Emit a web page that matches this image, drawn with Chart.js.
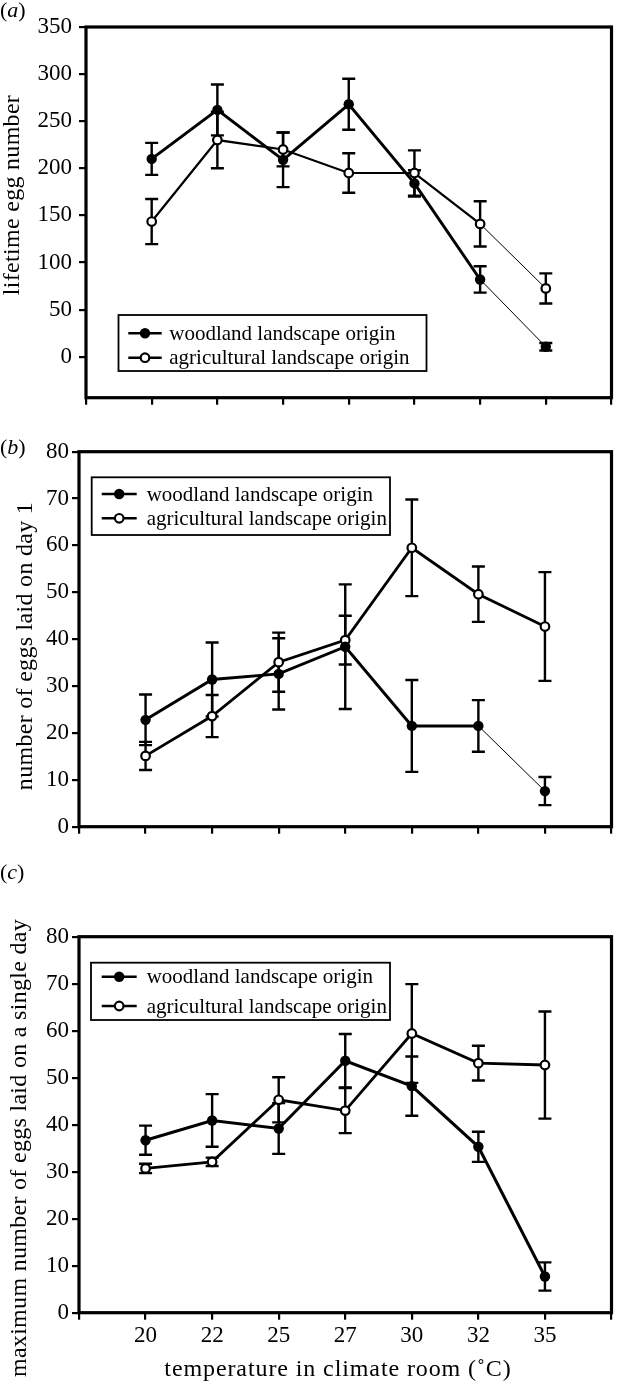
<!DOCTYPE html>
<html><head><meta charset="utf-8">
<script src="https://cdn.jsdelivr.net/npm/chart.js@4.4.1/dist/chart.umd.min.js"></script>
<style>
html,body{margin:0;padding:0;background:#fff;}
body{width:618px;height:1387px;position:relative;overflow:hidden;font-family:"Liberation Serif","Times New Roman",serif;color:#000;}
canvas{position:absolute;left:0;}
.pl{position:absolute;left:0;font-size:22px;line-height:22px;white-space:nowrap;}
.yt{position:absolute;width:600px;height:30px;line-height:30px;font-size:24px;letter-spacing:0.3px;text-align:center;white-space:nowrap;transform:rotate(-90deg);}
.xt{position:absolute;width:500px;height:30px;line-height:30px;font-size:24px;letter-spacing:0.9px;text-align:center;white-space:nowrap;}
</style></head><body>
<canvas id="ca" width="618" height="420" style="top:0"></canvas>
<canvas id="cb" width="618" height="440" style="top:420px"></canvas>
<canvas id="cc" width="618" height="527" style="top:860px"></canvas>
<div class="pl" style="top:-1px">(<i>a</i>)</div>
<div class="pl" style="top:436px">(<i>b</i>)</div>
<div class="pl" style="top:861px">(<i>c</i>)</div>
<div class="yt" style="left:-289px;top:180px">lifetime egg number</div>
<div class="yt" style="left:-276px;top:631px">number of eggs laid on day 1</div>
<div class="yt" style="left:-282.5px;top:1133px">maximum number of eggs laid on a single day</div>
<div class="xt" style="left:88px;top:1353px">temperature in climate room (˚C)</div>
<script>
const categories = ['20', '22', '25', '27', '30', '32', '35'];
const seriesNames = ['woodland landscape origin', 'agricultural landscape origin'];

const woodA = [210, 262, 209, 268, 184, 82, 10.6];
const woodAErr = [17, 27, 29, 27, 14, 14, 4];
const agriA = [143.5, 230, 220, 195, 195, 141, 72.5];
const agriAErr = [24, 30, 18, 21, 24, 24, 16];

const woodB = [22.8, 31.4, 32.6, 38.4, 21.5, 21.5, 7.6];
const woodBErr = [5.4, 7.9, 7.6, 13.3, 9.8, 5.5, 3];
const agriB = [15.1, 23.6, 35.1, 39.8, 59.5, 49.6, 42.7];
const agriBErr = [3, 4.5, 6.3, 5.2, 10.3, 5.9, 11.6];

const woodC = [36.7, 40.9, 39.2, 53.6, 48.2, 35.3, 7.7];
const woodCErr = [3.1, 5.6, 5.4, 5.7, 6.3, 3.2, 3];
const agriC = [30.7, 32.1, 45.3, 43.0, 59.4, 53.1, 52.7];
const agriCErr = [1, 0.9, 4.8, 4.8, 10.5, 3.7, 11.4];

const yTicksA = [0, 50, 100, 150, 200, 250, 300, 350];
const yTicksBC = [0, 10, 20, 30, 40, 50, 60, 70, 80];
const xTickPositions = [0, 1, 2, 3, 4, 5, 6, 7, 8];

const FONT = '"Liberation Serif", "Times New Roman", serif';

const errorBars = {
  id: 'errorBars',
  beforeDatasetsDraw(chart) {
    const {ctx, scales: {x, y}} = chart;
    ctx.save();
    ctx.strokeStyle = '#000';
    ctx.lineWidth = 2.4;
    chart.data.datasets.forEach(ds => {
      if (!ds.err) return;
      ds.data.forEach((p, i) => {
        const px = x.getPixelForValue(p.x);
        const yt = y.getPixelForValue(p.y + ds.err[i]);
        const yb = y.getPixelForValue(p.y - ds.err[i]);
        ctx.beginPath();
        ctx.moveTo(px, yt); ctx.lineTo(px, yb);
        ctx.moveTo(px - 6.5, yt); ctx.lineTo(px + 6.5, yt);
        ctx.moveTo(px - 6.5, yb); ctx.lineTo(px + 6.5, yb);
        ctx.stroke();
      });
    });
    ctx.restore();
  }
};

const frame = {
  id: 'frame',
  afterDraw(chart) {
    const {ctx, chartArea: a} = chart;
    ctx.save();
    ctx.strokeStyle = '#000';
    ctx.lineWidth = 3.2;
    ctx.strokeRect(a.left, a.top, a.right - a.left, a.bottom - a.top);
    ctx.restore();
  }
};

const boxLegend = {
  id: 'boxLegend',
  afterDraw(chart, args, o) {
    const ctx = chart.ctx;
    ctx.save();
    ctx.strokeStyle = '#000';
    ctx.lineWidth = 1.8;
    ctx.strokeRect(o.x, o.y, o.w, o.h);
    chart.data.datasets.forEach((ds, i) => {
      const ry = o.rows[i];
      ctx.lineWidth = 2.4;
      ctx.beginPath();
      ctx.moveTo(o.mx0, ry); ctx.lineTo(o.mx1, ry);
      ctx.stroke();
      const cx = (o.mx0 + o.mx1) / 2;
      ctx.beginPath();
      ctx.arc(cx, ry, ds.pointRadius, 0, Math.PI * 2);
      ctx.fillStyle = ds.pointBackgroundColor;
      ctx.fill();
      if (ds.pointBorderWidth > 0) { ctx.lineWidth = ds.pointBorderWidth; ctx.stroke(); }
      ctx.fillStyle = '#000';
      ctx.font = '21px ' + FONT;
      ctx.textBaseline = 'middle';
      ctx.textAlign = 'left';
      ctx.fillText(ds.label, o.tx, ry + 1);
    });
    ctx.restore();
  }
};

function makeChart(id, c) {
  const pts = arr => arr.map((v, i) => ({x: i + 1, y: v}));
  const segW = (thin, w) => ctx => (thin && ctx.p0DataIndex === 5 ? 1 : w);
  new Chart(document.getElementById(id), {
    type: 'scatter',
    data: {
      datasets: [
        {label: seriesNames[0], data: pts(c.wood), err: c.woodErr, showLine: true,
         borderColor: '#000', borderWidth: c.wW, segment: {borderWidth: segW(c.woodThin, c.wW)},
         pointRadius: 5.2, pointBackgroundColor: '#000', pointBorderColor: '#000', pointBorderWidth: 0},
        {label: seriesNames[1], data: pts(c.agri), err: c.agriErr, showLine: true,
         borderColor: '#000', borderWidth: c.aW, segment: {borderWidth: segW(c.agriThin, c.aW)},
         pointRadius: 4.3, pointBackgroundColor: '#fff', pointBorderColor: '#000', pointBorderWidth: 2.2}
      ]
    },
    options: {
      responsive: false, animation: false, devicePixelRatio: 1,
      layout: {padding: {left: 0, right: 1.5, top: c.top, bottom: 0}},
      plugins: {legend: {display: false}, tooltip: {enabled: false}, boxLegend: c.legend},
      scales: {
        x: {
          type: 'linear', min: 0, max: 8,
          afterBuildTicks: s => { s.ticks = xTickPositions.map(v => ({value: v})); },
          afterFit: s => { s.height = c.xH; },
          ticks: {display: c.showX, autoSkip: false, maxRotation: 0, padding: 2, color: '#000',
                  font: {family: FONT, size: 23},
                  callback: v => (v >= 1 && v <= 7 ? categories[v - 1] : '')},
          grid: {drawOnChartArea: false, drawTicks: true, tickLength: 7, tickWidth: 2.2, lineWidth: 2.2, color: '#000'},
          border: {display: false}
        },
        y: {
          type: 'linear', min: c.ymin, max: c.ymax,
          afterBuildTicks: s => { s.ticks = c.yTicks.map(v => ({value: v})); },
          afterFit: s => { s.width = c.left; },
          ticks: {padding: c.yPad, color: '#000', font: {family: FONT, size: 23}},
          grid: {drawOnChartArea: false, drawTicks: true, tickLength: 7, tickWidth: 2.2, lineWidth: 2.2, color: '#000'},
          border: {display: false}
        }
      }
    },
    plugins: [errorBars, frame, boxLegend]
  });
}

makeChart('ca', {wood: woodA, woodErr: woodAErr, agri: agriA, agriErr: agriAErr,
  wW: 3, aW: 2.2, woodThin: true, agriThin: true,
  top: 27, xH: 22.3, left: 86, ymin: -43.5, ymax: 350, yTicks: yTicksA, yPad: 7, showX: false,
  legend: {x: 118.5, y: 315, w: 308, h: 56, rows: [333.3, 357.7], mx0: 128.3, mx1: 161.7, tx: 169.3}});

makeChart('cb', {wood: woodB, woodErr: woodBErr, agri: agriB, agriErr: agriBErr,
  wW: 3, aW: 2.8, woodThin: true, agriThin: false,
  top: 31.7, xH: 33.3, left: 79, ymin: 0, ymax: 80, yTicks: yTicksBC, yPad: 3, showX: false,
  legend: {x: 91.7, y: 57.3, w: 298.3, h: 57.7, rows: [74, 98.3], mx0: 101.7, mx1: 136.7, tx: 146.7}});

makeChart('cc', {wood: woodC, woodErr: woodCErr, agri: agriC, agriErr: agriCErr,
  wW: 3, aW: 2.8, woodThin: false, agriThin: false,
  top: 76.7, xH: 74.3, left: 79, ymin: 0, ymax: 80, yTicks: yTicksBC, yPad: 3, showX: true,
  legend: {x: 91, y: 102.7, w: 299, h: 57.3, rows: [116.7, 146], mx0: 101.7, mx1: 136.7, tx: 146.7}});
</script>
</body></html>
